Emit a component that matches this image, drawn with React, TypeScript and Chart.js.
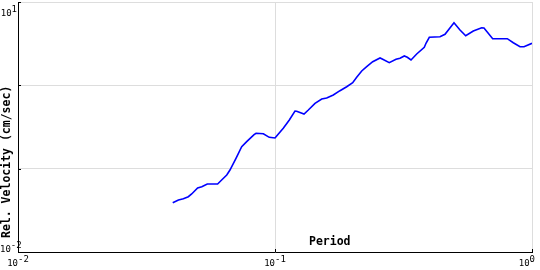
import React, { useEffect, useRef } from "react";
import { Chart, registerables } from "chart.js";

Chart.register(...registerables);

const periods = [0.04, 0.0421, 0.044, 0.046, 0.0474, 0.05, 0.0519, 0.0545, 0.0598, 0.062, 0.0649, 0.0668, 0.0705, 0.0742, 0.0776, 0.0829, 0.0844, 0.0901, 0.095, 0.1, 0.1015, 0.1077, 0.1137, 0.1196, 0.1214, 0.1297, 0.1348, 0.1431, 0.152, 0.1589, 0.1686, 0.179, 0.1901, 0.2006, 0.2079, 0.2175, 0.2274, 0.24, 0.2563, 0.2625, 0.2784, 0.2957, 0.3065, 0.3185, 0.3272, 0.3382, 0.3559, 0.381, 0.3868, 0.3985, 0.4385, 0.4587, 0.4971, 0.5246, 0.5521, 0.591, 0.637, 0.6503, 0.7031, 0.8015, 0.8457, 0.8981, 0.9309, 1.0];
const velocities = [0.039, 0.0421, 0.0436, 0.0461, 0.0497, 0.0586, 0.0607, 0.0655, 0.0655, 0.0731, 0.0839, 0.0964, 0.1331, 0.1835, 0.2107, 0.2556, 0.2656, 0.2627, 0.2378, 0.2333, 0.2466, 0.305, 0.3837, 0.492, 0.4887, 0.4529, 0.5058, 0.6085, 0.6855, 0.7047, 0.7656, 0.8622, 0.9629, 1.0755, 1.2484, 1.486, 1.673, 1.921, 2.128, 2.053, 1.869, 2.053, 2.11, 2.249, 2.17, 2.014, 2.377, 2.86, 3.194, 3.77, 3.833, 4.097, 5.643, 4.613, 3.94, 4.487, 4.915, 4.88, 3.627, 3.627, 3.248, 2.908, 2.908, 3.194];

const xTickValues = [0.01, 0.1, 1];
const yTickValues = [0.01, 0.1, 1, 10];
const yLabeledTicks = [0.01, 10];
const xTitle = "Period";
const yTitle = "Rel. Velocity (cm/sec)";

const BASE_FONT = "9px 'DejaVu Sans Mono', monospace";
const TITLE_FONT = "bold 11.5px 'DejaVu Sans Mono', monospace";

function drawPow(ctx: CanvasRenderingContext2D, value: number, x: number, y: number, align: "center" | "right", minX: number, maxX: number) {
  const exp = String(Math.round(Math.log10(value)));
  ctx.font = BASE_FONT;
  const wb = ctx.measureText("10").width;
  const we = ctx.measureText(exp).width;
  const total = wb + we;
  let left = align === "center" ? x - total / 2 : x - total;
  if (left < minX) left = minX;
  if (left + total > maxX) left = maxX - total;
  ctx.textAlign = "left";
  ctx.textBaseline = "alphabetic";
  ctx.fillText("10", left, y);
  ctx.fillText(exp, left + wb, y - 4);
}

const decorPlugin = {
  id: "decor",
  afterDraw(chart: any) {
    const ctx = chart.ctx as CanvasRenderingContext2D;
    const xs = chart.scales.x;
    const ys = chart.scales.y;
    const area = chart.chartArea;
    ctx.save();
    // tick marks
    ctx.strokeStyle = "#000";
    ctx.lineWidth = 1;
    ctx.beginPath();
    xTickValues.forEach((v) => {
      const px = Math.round(xs.getPixelForValue(v)) + 0.5;
      ctx.moveTo(px, area.bottom);
      ctx.lineTo(px, area.bottom - 3);
    });
    yTickValues.forEach((v) => {
      const py = Math.round(ys.getPixelForValue(v)) + 0.5;
      ctx.moveTo(area.left, py);
      ctx.lineTo(area.left + 3, py);
    });
    ctx.stroke();
    // tick labels
    ctx.fillStyle = "#000";
    xTickValues.forEach((v) => {
      const px = xs.getPixelForValue(v);
      drawPow(ctx, v, px, area.bottom + 14, "center", 0, chart.width - 5);
    });
    yLabeledTicks.forEach((v) => {
      const py = ys.getPixelForValue(v);
      drawPow(ctx, v, area.left - 1, Math.max(py, 16), "right", 0, chart.width);
    });
    // titles
    ctx.font = TITLE_FONT;
    ctx.textAlign = "left";
    ctx.textBaseline = "alphabetic";
    ctx.fillText(xTitle, 309, area.bottom - 7);
    ctx.translate(10, area.bottom - 14);
    ctx.rotate(-Math.PI / 2);
    ctx.fillText(yTitle, 0, 0);
    ctx.restore();
  },
};

export default function App() {
  const ref = useRef<HTMLCanvasElement | null>(null);
  useEffect(() => {
    document.body.style.margin = "0";
    const canvas = ref.current;
    if (!canvas) return;
    const data = periods.map((p, i) => ({ x: p, y: velocities[i] }));
    const chart = new Chart(canvas, {
      type: "line",
      data: {
        datasets: [
          {
            data,
            borderColor: "#0000ff",
            borderWidth: 1.6,
            pointRadius: 0,
            tension: 0,
            fill: false,
          },
        ],
      },
      options: {
        animation: false,
        responsive: false,
        maintainAspectRatio: false,
        layout: { padding: { left: 18, right: 8, top: 2, bottom: 18 } },
        plugins: { legend: { display: false }, tooltip: { enabled: false } },
        scales: {
          x: {
            type: "logarithmic",
            min: 0.01,
            max: 1,
            afterBuildTicks: (s: any) => {
              s.ticks = xTickValues.map((v) => ({ value: v }));
            },
            afterFit: (s: any) => {
              s.height = 0;
            },
            ticks: { display: false },
            grid: { color: "#dddddd", lineWidth: 1, drawTicks: false },
            border: { display: true, color: "#000000", width: 1 },
          },
          y: {
            type: "logarithmic",
            min: 0.01,
            max: 10,
            afterBuildTicks: (s: any) => {
              s.ticks = yTickValues.map((v) => ({ value: v }));
            },
            afterFit: (s: any) => {
              s.width = 0;
            },
            ticks: { display: false },
            grid: { color: "#dddddd", lineWidth: 1, drawTicks: false },
            border: { display: true, color: "#000000", width: 1 },
          },
        },
      },
      plugins: [decorPlugin],
    });
    return () => chart.destroy();
  }, []);
  return <canvas ref={ref} width={540} height={270} style={{ display: "block" }} />;
}
